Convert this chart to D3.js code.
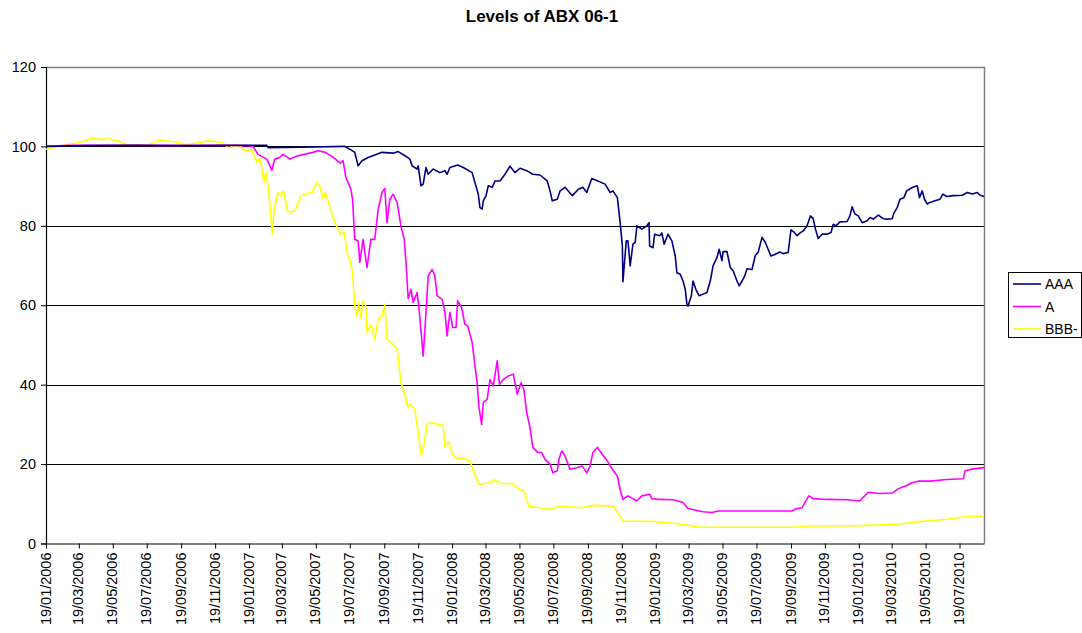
<!DOCTYPE html>
<html><head><meta charset="utf-8">
<script src="https://cdn.jsdelivr.net/npm/d3@7"></script>
<style>body{margin:0;background:#fff}svg{display:block;font-family:"Liberation Sans",Arial,sans-serif}</style>
</head><body><svg id="c" width="1082" height="633"></svg>
<script>
const title = "Levels of ABX 06-1";
const seriesNames = ["AAA", "A", "BBB-"];
const seriesColors = ["#000080", "#FF00FF", "#FFFF00"];
const yTicks = [0, 20, 40, 60, 80, 100, 120];
const xTickLabels = ["19/01/2006","19/03/2006","19/05/2006","19/07/2006","19/09/2006","19/11/2006",
"19/01/2007","19/03/2007","19/05/2007","19/07/2007","19/09/2007","19/11/2007",
"19/01/2008","19/03/2008","19/05/2008","19/07/2008","19/09/2008","19/11/2008",
"19/01/2009","19/03/2009","19/05/2009","19/07/2009","19/09/2009","19/11/2009",
"19/01/2010","19/03/2010","19/05/2010","19/07/2010"];
const dateRange = ["2006-01-19", "2010-09-01"];

const aaa = [["2006-01-19",100.0],["2006-04-01",100.2],["2006-07-01",100.3],["2006-10-01",100.2],["2007-01-01",100.3],["2007-02-20",100.3],["2007-02-22",99.7],["2007-04-21",99.8],["2007-07-10",100.0],["2007-07-19",99.3],["2007-07-28",98.5],["2007-08-03",95.1],["2007-08-10",96.4],["2007-08-21",97.2],["2007-09-15",98.5],["2007-10-05",98.3],["2007-10-14",98.7],["2007-10-27",97.6],["2007-11-04",96.8],["2007-11-08",95.1],["2007-11-17",94.3],["2007-11-19",95.1],["2007-11-24",90.1],["2007-11-28",90.5],["2007-12-03",94.7],["2007-12-07",93.0],["2007-12-16",94.3],["2007-12-28",93.4],["2008-01-06",93.9],["2008-01-10",93.0],["2008-01-15",94.7],["2008-01-29",95.3],["2008-02-08",94.7],["2008-02-24",93.4],["2008-02-29",90.9],["2008-03-06",88.0],["2008-03-09",84.6],["2008-03-13",84.2],["2008-03-15",86.3],["2008-03-20",87.6],["2008-03-24",90.1],["2008-03-31",89.7],["2008-04-05",91.3],["2008-04-14",91.3],["2008-04-23",93.0],["2008-05-02",95.0],["2008-05-11",93.4],["2008-05-20",94.5],["2008-06-01",93.9],["2008-06-12",93.0],["2008-06-25",92.8],["2008-07-08",91.3],["2008-07-13",88.8],["2008-07-17",86.3],["2008-07-26",86.7],["2008-07-31",88.8],["2008-08-09",89.7],["2008-08-22",87.6],["2008-09-02",89.2],["2008-09-10",89.7],["2008-09-17",88.4],["2008-09-26",91.9],["2008-10-07",91.3],["2008-10-20",90.5],["2008-10-29",88.4],["2008-11-03",88.8],["2008-11-11",87.1],["2008-11-16",80.8],["2008-11-20",74.9],["2008-11-21",65.9],["2008-11-27",76.2],["2008-11-30",76.2],["2008-12-04",69.9],["2008-12-09",75.4],["2008-12-13",75.8],["2008-12-16",80.0],["2008-12-25",79.2],["2009-01-03",80.0],["2009-01-07",80.8],["2009-01-08",74.9],["2009-01-14",74.5],["2009-01-17",77.9],["2009-01-26",77.5],["2009-01-30",78.2],["2009-02-03",75.4],["2009-02-10",77.9],["2009-02-17",76.2],["2009-02-23",72.4],["2009-02-26",68.2],["2009-03-04",67.8],["2009-03-09",66.1],["2009-03-13",64.0],["2009-03-16",60.3],["2009-03-18",59.8],["2009-03-24",62.4],["2009-03-27",66.1],["2009-04-01",64.0],["2009-04-07",62.4],["2009-04-14",62.8],["2009-04-21",63.2],["2009-04-27",66.1],["2009-05-02",69.9],["2009-05-09",72.0],["2009-05-13",74.1],["2009-05-18",71.2],["2009-05-20",73.5],["2009-05-27",73.5],["2009-06-02",69.5],["2009-06-07",68.7],["2009-06-14",66.1],["2009-06-18",64.9],["2009-06-23",66.1],["2009-06-28",67.4],["2009-07-02",69.2],["2009-07-11",69.0],["2009-07-17",72.6],["2009-07-22",73.3],["2009-07-29",77.1],["2009-08-04",75.8],["2009-08-09",74.1],["2009-08-14",72.4],["2009-08-21",72.8],["2009-08-30",73.4],["2009-09-05",73.0],["2009-09-14",73.3],["2009-09-19",79.0],["2009-09-24",78.5],["2009-09-30",77.5],["2009-10-06",78.3],["2009-10-11",78.7],["2009-10-18",80.0],["2009-10-24",82.5],["2009-10-29",81.8],["2009-11-02",79.2],["2009-11-07",76.8],["2009-11-14",77.9],["2009-11-23",77.9],["2009-11-30",78.3],["2009-12-04",80.4],["2009-12-09",80.0],["2009-12-16",81.0],["2009-12-29",81.1],["2010-01-03",82.5],["2010-01-07",84.8],["2010-01-12",83.0],["2010-01-18",82.5],["2010-01-25",80.8],["2010-02-03",81.3],["2010-02-08",82.1],["2010-02-14",81.7],["2010-02-23",82.7],["2010-03-04",81.8],["2010-03-11",81.7],["2010-03-20",81.8],["2010-03-23",83.2],["2010-03-29",84.6],["2010-04-03",86.7],["2010-04-10",87.1],["2010-04-15",88.8],["2010-04-22",89.4],["2010-04-26",89.7],["2010-05-04",90.1],["2010-05-08",87.1],["2010-05-13",88.8],["2010-05-17",86.7],["2010-05-22",85.5],["2010-05-27",85.9],["2010-06-05",86.3],["2010-06-14",86.7],["2010-06-19",88.0],["2010-06-26",87.4],["2010-07-08",87.6],["2010-07-24",87.7],["2010-08-02",88.4],["2010-08-11",88.0],["2010-08-20",88.4],["2010-08-25",87.7],["2010-09-01",87.4]];

const aSeries = [["2006-01-19",100.0],["2006-03-01",100.3],["2006-06-01",100.3],["2006-09-01",100.2],["2006-12-01",100.3],["2007-01-15",100.2],["2007-01-26",100.0],["2007-02-04",98.0],["2007-02-20",96.8],["2007-03-01",94.0],["2007-03-06",96.8],["2007-03-15",97.2],["2007-03-21",98.0],["2007-04-03",96.8],["2007-04-15",97.6],["2007-05-14",98.5],["2007-05-23",98.9],["2007-06-05",98.5],["2007-06-17",97.5],["2007-07-02",95.8],["2007-07-07",96.4],["2007-07-12",92.2],["2007-07-21",89.2],["2007-07-24",86.7],["2007-07-28",76.6],["2007-08-03",76.2],["2007-08-06",70.8],["2007-08-12",76.6],["2007-08-15",73.3],["2007-08-19",69.5],["2007-08-26",76.6],["2007-09-02",76.6],["2007-09-08",84.2],["2007-09-15",88.4],["2007-09-20",89.4],["2007-09-24",80.8],["2007-09-29",86.7],["2007-10-05",88.0],["2007-10-12",85.9],["2007-10-19",80.0],["2007-10-25",76.5],["2007-10-28",71.0],["2007-11-01",61.7],["2007-11-06",64.0],["2007-11-10",60.7],["2007-11-17",63.2],["2007-11-20",59.8],["2007-11-26",50.6],["2007-11-28",47.2],["2007-12-03",58.2],["2007-12-07",67.4],["2007-12-14",69.0],["2007-12-19",67.4],["2007-12-23",62.4],["2008-01-01",61.5],["2008-01-06",58.2],["2008-01-10",52.3],["2008-01-15",58.2],["2008-01-20",54.4],["2008-01-26",54.4],["2008-01-29",61.1],["2008-02-05",59.4],["2008-02-11",55.2],["2008-02-16",54.8],["2008-02-24",50.6],["2008-02-29",44.7],["2008-03-04",40.5],["2008-03-07",34.6],["2008-03-12",30.0],["2008-03-15",35.5],["2008-03-22",36.3],["2008-03-27",41.3],["2008-04-02",39.7],["2008-04-09",46.0],["2008-04-13",40.1],["2008-04-20",41.3],["2008-04-29",42.2],["2008-05-08",42.6],["2008-05-15",37.6],["2008-05-22",40.5],["2008-05-27",38.8],["2008-06-01",33.0],["2008-06-07",29.2],["2008-06-12",24.2],["2008-06-21",22.9],["2008-06-28",22.9],["2008-07-04",21.2],["2008-07-13",20.0],["2008-07-18",17.8],["2008-07-26",18.3],["2008-07-29",21.2],["2008-08-03",23.3],["2008-08-09",22.0],["2008-08-18",18.7],["2008-08-30",19.1],["2008-09-09",19.5],["2008-09-17",17.8],["2008-09-23",19.5],["2008-09-28",22.9],["2008-10-06",24.2],["2008-10-15",22.4],["2008-10-24",20.8],["2008-11-02",18.7],["2008-11-11",17.0],["2008-11-16",13.6],["2008-11-21",11.1],["2008-11-30",12.0],["2008-12-09",11.3],["2008-12-16",10.7],["2008-12-25",12.0],["2009-01-08",12.4],["2009-01-12",11.3],["2009-01-26",11.1],["2009-02-19",11.0],["2009-03-09",10.3],["2009-03-18",8.8],["2009-04-14",8.0],["2009-04-30",7.8],["2009-05-11",8.2],["2009-06-20",8.2],["2009-08-13",8.2],["2009-09-21",8.2],["2009-09-30",8.8],["2009-10-09",9.0],["2009-10-14",10.3],["2009-10-21",12.0],["2009-10-29",11.3],["2009-11-23",11.1],["2009-12-29",11.0],["2010-01-21",10.7],["2010-01-26",11.5],["2010-02-05",12.9],["2010-02-26",12.6],["2010-03-20",12.7],["2010-03-31",13.8],["2010-04-15",14.6],["2010-04-24",15.3],["2010-05-06",15.7],["2010-05-27",15.7],["2010-06-26",16.1],["2010-07-26",16.3],["2010-07-29",18.3],["2010-08-13",18.8],["2010-09-01",19.1]];

const bbb = [["2006-01-19",99.3],["2006-02-06",99.8],["2006-03-03",100.6],["2006-03-21",101.0],["2006-04-12",102.1],["2006-05-01",101.7],["2006-05-10",102.0],["2006-06-01",101.2],["2006-06-15",100.3],["2006-07-20",100.3],["2006-08-12",101.7],["2006-08-30",101.3],["2006-09-17",101.0],["2006-09-26",100.4],["2006-11-09",101.4],["2006-12-03",101.0],["2006-12-12",99.7],["2007-01-03",100.2],["2007-01-12",98.9],["2007-01-24",99.2],["2007-02-02",96.0],["2007-02-08",97.0],["2007-02-15",91.0],["2007-02-18",93.4],["2007-02-22",90.5],["2007-02-26",84.2],["2007-03-02",77.9],["2007-03-05",84.2],["2007-03-12",88.4],["2007-03-17",87.6],["2007-03-22",88.8],["2007-03-29",83.8],["2007-04-03",83.4],["2007-04-12",83.8],["2007-04-22",87.6],["2007-05-03",88.0],["2007-05-12",88.4],["2007-05-21",90.9],["2007-05-26",90.1],["2007-06-01",86.9],["2007-06-05",88.4],["2007-06-13",85.0],["2007-06-22",80.8],["2007-07-02",77.9],["2007-07-09",78.3],["2007-07-14",73.3],["2007-07-19",71.6],["2007-07-24",68.2],["2007-07-28",59.8],["2007-08-01",57.3],["2007-08-04",60.6],["2007-08-08",56.8],["2007-08-12",61.0],["2007-08-17",59.8],["2007-08-19",53.1],["2007-08-26",55.2],["2007-09-02",51.4],["2007-09-08",56.4],["2007-09-15",57.3],["2007-09-20",60.3],["2007-09-24",51.4],["2007-10-05",50.2],["2007-10-12",48.9],["2007-10-19",40.5],["2007-10-25",38.0],["2007-11-01",34.2],["2007-11-04",35.1],["2007-11-13",33.8],["2007-11-19",27.9],["2007-11-24",22.5],["2007-11-28",23.5],["2007-12-05",30.1],["2007-12-14",30.5],["2007-12-25",30.0],["2008-01-03",29.7],["2008-01-06",24.4],["2008-01-13",25.6],["2008-01-20",22.3],["2008-01-29",21.4],["2008-02-08",21.5],["2008-02-20",20.8],["2008-02-29",17.4],["2008-03-07",14.9],["2008-03-18",15.1],["2008-03-27",15.3],["2008-04-05",16.0],["2008-04-14",15.1],["2008-05-06",15.1],["2008-05-15",14.0],["2008-05-26",13.2],["2008-05-29",12.4],["2008-06-05",9.4],["2008-06-25",9.0],["2008-07-13",8.6],["2008-07-31",9.4],["2008-09-09",9.0],["2008-09-28",9.6],["2008-11-03",9.4],["2008-11-12",7.7],["2008-11-21",5.6],["2009-01-08",5.6],["2009-02-19",5.1],["2009-03-13",4.7],["2009-04-09",4.1],["2009-08-13",4.1],["2009-09-23",4.1],["2009-10-24",4.4],["2010-01-21",4.5],["2010-03-16",4.8],["2010-04-03",4.9],["2010-05-09",5.5],["2010-06-26",6.1],["2010-08-02",6.8],["2010-09-01",6.9]];

const seriesData = [aaa, aSeries, bbb];

const svg = d3.select("#c");
const parseISO = d3.timeParse("%Y-%m-%d");
const parseTick = d3.timeParse("%d/%m/%Y");
const L = 46, R = 984, T = 67, B = 543.5;
const FONT = "Liberation Sans, Arial, sans-serif";

const x = d3.scaleTime().domain(dateRange.map(parseISO)).range([L, R]);
const y = d3.scaleLinear().domain([0, 120]).range([B, T]);

svg.append("rect").attr("width", 1082).attr("height", 633).attr("fill", "#fff");

svg.append("text").attr("x", 542).attr("y", 22).attr("text-anchor", "middle")
  .attr("font-size", 17).attr("font-weight", "bold").text(title);

// gridlines
svg.append("g").selectAll("line").data(yTicks.filter(v => v > 0 && v < 120)).join("line")
  .attr("x1", L).attr("x2", R).attr("y1", d => Math.round(y(d)) + 0.5).attr("y2", d => Math.round(y(d)) + 0.5)
  .attr("stroke", "#000").attr("stroke-width", 1);

// plot border (top/right)
svg.append("path").attr("d", `M${L},${T + 0.5}H${R + 0.5}V${B}`).attr("fill", "none").attr("stroke", "#808080").attr("stroke-width", 1.5);

// y axis
const yAxis = d3.axisLeft(y).tickValues(yTicks).tickSize(5).tickPadding(5).tickFormat(d3.format("d"));
const gy = svg.append("g").attr("transform", `translate(${L},0)`).call(yAxis);
gy.select(".domain").attr("stroke", "#000").attr("stroke-width", 1.2);
gy.selectAll(".tick line").attr("stroke", "#000");
gy.selectAll("text").attr("font-size", 14.5).attr("font-family", FONT).attr("fill", "#000");

// x axis
const xTicks = xTickLabels.map(parseTick);
const xAxis = d3.axisBottom(x).tickValues(xTicks).tickSize(5).tickSizeOuter(0).tickFormat(d3.timeFormat("%d/%m/%Y"));
const gx = svg.append("g").attr("transform", `translate(0,${B})`).call(xAxis);
gx.select(".domain").attr("stroke", "#000").attr("stroke-width", 1.2);
gx.selectAll(".tick line").attr("stroke", "#000");
gx.selectAll("text").attr("font-size", 14.5).attr("font-family", FONT).attr("fill", "#000")
  .attr("transform", "rotate(-90)").attr("text-anchor", "end").attr("x", -9).attr("y", -1).attr("dy", "0.35em");

// lines
const line = d3.line().x(d => x(parseISO(d[0]))).y(d => y(d[1]));
[2, 1, 0].forEach(i => {
  svg.append("path").datum(seriesData[i]).attr("d", line).attr("fill", "none")
    .attr("stroke", seriesColors[i]).attr("stroke-width", 1.6).attr("stroke-linejoin", "round");
});

// legend
const lg = svg.append("g");
lg.append("rect").attr("x", 1008.5).attr("y", 272.5).attr("width", 73).attr("height", 65)
  .attr("fill", "#fff").attr("stroke", "#000").attr("stroke-width", 1);
seriesNames.forEach((n, i) => {
  const yy = 284 + i * 22.5;
  lg.append("line").attr("x1", 1013).attr("x2", 1041).attr("y1", yy).attr("y2", yy)
    .attr("stroke", seriesColors[i]).attr("stroke-width", 1.6);
  lg.append("text").attr("x", 1045).attr("y", yy).attr("dy", "0.36em").attr("font-size", 14).text(n);
});
</script></body></html>
